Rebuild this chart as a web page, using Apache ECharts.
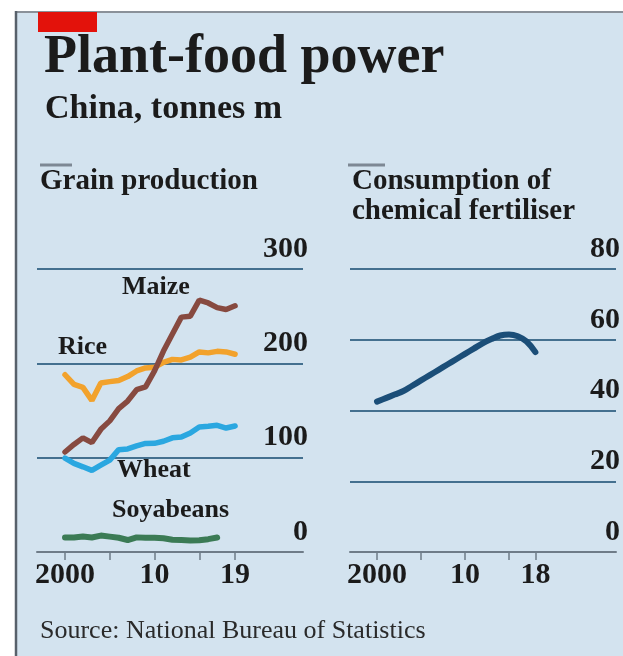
<!DOCTYPE html>
<html><head><meta charset="utf-8">
<script src="https://cdn.jsdelivr.net/npm/echarts@6/dist/echarts.min.js"></script>
<style>html,body{margin:0;padding:0;background:#fff}#c{width:623px;height:656px}</style>
</head><body><div id="c"></div>
<script>
// ---- data ----
const grainYears = [2000,2001,2002,2003,2004,2005,2006,2007,2008,2009,2010,2011,2012,2013,2014,2015,2016,2017,2018,2019];
const maize  = [106,114,121,116,130,139,152,160,172,175,192,213,231,249,250,267,264,259,257,261];
const rice   = [187.9,177.6,174.5,160.7,179.1,180.6,181.7,186.0,191.9,195.1,195.8,201.0,204.2,203.6,206.5,212.1,211.1,212.7,212.1,209.6];
const wheat  = [99.6,93.9,90.3,86.5,92.0,97.4,108.5,109.3,112.5,115.1,115.2,117.4,121.0,121.9,126.2,132.6,133.3,134.3,131.4,133.6];
const soyYears = [2000,2001,2002,2003,2004,2005,2006,2007,2008,2009,2010,2011,2012,2013,2014,2015,2016,2017];
const soyabeans = [15.4,15.4,16.5,15.4,17.4,16.3,15.1,12.7,15.5,15.0,15.1,14.5,13.0,12.8,12.2,12.4,13.6,15.3];
const fertYears = [2000,2001,2002,2003,2004,2005,2006,2007,2008,2009,2010,2011,2012,2013,2014,2015,2016,2017,2018];
const fertiliser = [42.5,43.5,44.5,45.5,47,48.5,50,51.5,53,54.5,56,57.5,59,60.2,61.2,61.5,61,59.5,56.5];

const grainXTicks = [2000,2005,2010,2015,2019];
const grainXLabelValues = [2000,2010,2019];
const grainXLabelTexts = ['2000','10','19'];
const fertXTicks = [2000,2005,2010,2015,2018];
const fertXLabelValues = [2000,2010,2018];
const fertXLabelTexts = ['2000','10','18'];

const SERIF = '"Liberation Serif", "DejaVu Serif", serif';
const pairs = (xs, ys) => xs.map((x, i) => [x, ys[i]]);

function xAxisCfg(idx, min, max, ticks, labVals, labTexts) {
  return {
    type: 'value', gridIndex: idx, min: min, max: max,
    axisLine: { show: true, onZero: false, lineStyle: { color: '#6f7c88', width: 2 } },
    axisTick: { show: true, customValues: ticks, length: 8, lineStyle: { color: '#6f7c88', width: 1.5 } },
    axisLabel: {
      customValues: labVals,
      formatter: v => labTexts[labVals.indexOf(v)],
      fontFamily: SERIF, fontWeight: 'bold', fontSize: 30, color: '#1b1b1b', margin: 8
    },
    splitLine: { show: false }
  };
}
function yAxisCfg(idx, max, interval, margin) {
  return {
    type: 'value', gridIndex: idx, position: 'right', min: 0, max: max, interval: interval,
    axisLine: { show: false }, axisTick: { show: false },
    axisLabel: {
      align: 'right', verticalAlign: 'bottom', lineHeight: 40, margin: margin,
      fontFamily: SERIF, fontWeight: 'bold', fontSize: 30, color: '#1b1b1b'
    },
    splitLine: { show: true, showMinLine: false, lineStyle: { color: '#44708f', width: 2 } }
  };
}
function txt(text, x, y, size, opts) {
  return Object.assign({
    type: 'text', z: 20, x: x, y: y,
    style: { text: text, fill: '#1b1b1b', font: 'bold ' + size + 'px ' + SERIF, align: 'left', verticalAlign: 'middle' }
  }, opts || {});
}

const chart = echarts.init(document.getElementById('c'), null, { renderer: 'canvas' });
chart.setOption({
  animation: false,
  backgroundColor: '#ffffff',
  grid: [
    { left: 37, top: 269, width: 266, height: 283 },
    { left: 350, top: 269, width: 266, height: 283 }
  ],
  xAxis: [
    xAxisCfg(0, 1996.87, 2026.59, grainXTicks, grainXLabelValues, grainXLabelTexts),
    xAxisCfg(1, 1996.93, 2027.16, fertXTicks, fertXLabelValues, fertXLabelTexts)
  ],
  yAxis: [ yAxisCfg(0, 300, 100, 5), yAxisCfg(1, 80, 20, 4) ],
  series: [
    { type: 'line', xAxisIndex: 0, yAxisIndex: 0, showSymbol: false, data: pairs(soyYears, soyabeans), lineStyle: { color: '#3b7b55', width: 6, cap: 'round' } },
    { type: 'line', xAxisIndex: 0, yAxisIndex: 0, showSymbol: false, data: pairs(grainYears, wheat), lineStyle: { color: '#2aa7e0', width: 5.5, cap: 'round' } },
    { type: 'line', xAxisIndex: 0, yAxisIndex: 0, showSymbol: false, data: pairs(grainYears, rice), lineStyle: { color: '#f2a22c', width: 5.5, cap: 'round' } },
    { type: 'line', xAxisIndex: 0, yAxisIndex: 0, showSymbol: false, data: pairs(grainYears, maize), lineStyle: { color: '#874a40', width: 5.5, cap: 'round' } },
    { type: 'line', xAxisIndex: 1, yAxisIndex: 1, showSymbol: false, smooth: 0.4, data: pairs(fertYears, fertiliser), lineStyle: { color: '#1b4e78', width: 6, cap: 'round' } }
  ],
  graphic: [
    { type: 'rect', z: -10, shape: { x: 16, y: 12, width: 607, height: 644 }, style: { fill: '#d3e3ef' } },
    { type: 'line', z: -5, shape: { x1: 15, y1: 12, x2: 623, y2: 12 }, style: { stroke: '#8a9199', lineWidth: 2 } },
    { type: 'line', z: -5, shape: { x1: 16, y1: 11, x2: 16, y2: 656 }, style: { stroke: '#58616b', lineWidth: 2.5 } },
    { type: 'rect', z: -4, shape: { x: 38, y: 12, width: 59, height: 20 }, style: { fill: '#e3120b' } },
    { type: 'line', z: -4, shape: { x1: 40, y1: 165, x2: 72, y2: 165 }, style: { stroke: '#7d8894', lineWidth: 3 } },
    { type: 'line', z: -4, shape: { x1: 348, y1: 165, x2: 385, y2: 165 }, style: { stroke: '#7d8894', lineWidth: 3 } },
    txt('Plant-food power', 44, 58, 54),
    txt('China, tonnes m', 45, 109, 34),
    txt('Grain production', 40, 182, 29),
    txt('Consumption of', 352, 182, 29),
    txt('chemical fertiliser', 352, 212, 29),
    txt('Maize', 122, 287, 26),
    txt('Rice', 58, 347, 26),
    txt('Wheat', 117, 470, 26),
    txt('Soyabeans', 112, 510, 26),
    { type: 'text', z: 20, x: 40, y: 631, style: { text: 'Source: National Bureau of Statistics', fill: '#2a2a2a', font: '26px ' + SERIF, align: 'left', verticalAlign: 'middle' } }
  ]
});
</script>
</body></html>
